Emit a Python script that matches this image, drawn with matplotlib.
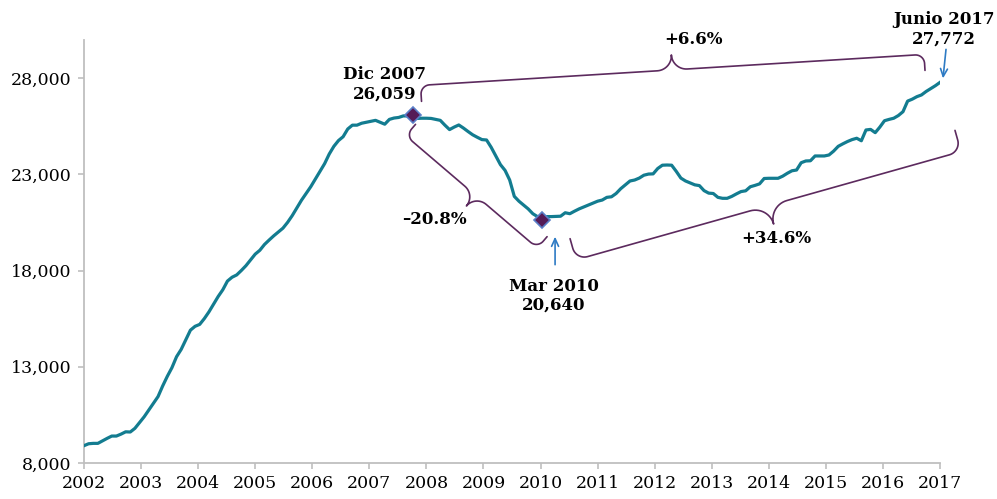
import numpy as np
import matplotlib.pyplot as plt
from matplotlib.ticker import FuncFormatter

# monthly values, one row per year (2002 .. mid 2017)
values = [
    8900, 9000, 9020, 9020, 9150, 9280, 9400, 9400, 9500, 9620, 9610, 9800,
    10100, 10400, 10750, 11100, 11450, 12000, 12500, 12950, 13520, 13900, 14400, 14900,
    15100, 15200, 15500, 15850, 16250, 16650, 17000, 17450, 17650, 17770, 18000, 18250,
    18550, 18850, 19050, 19350, 19580, 19800, 20000, 20200, 20500, 20850, 21250, 21650,
    22000, 22350, 22750, 23150, 23550, 24050, 24450, 24750, 24950, 25350, 25550, 25550,
    25650, 25700, 25750, 25800, 25700, 25600, 25850, 25920, 25950, 26030, 26030, 26059,
    25900, 25910, 25910, 25900, 25850, 25800, 25550, 25320, 25450, 25560, 25400, 25220,
    25050, 24920, 24800, 24780, 24400, 23950, 23500, 23200, 22700, 21850, 21600, 21400,
    21200, 20950, 20800, 20640, 20800, 20800, 20810, 20820, 21000, 20950, 21080, 21200,
    21300, 21400, 21500, 21600, 21660, 21800, 21830, 22000, 22250, 22450, 22650, 22700,
    22800, 22950, 23010, 23020, 23300, 23470, 23480, 23470, 23150, 22800, 22650, 22550,
    22450, 22410, 22150, 22020, 22000, 21800, 21750, 21750, 21850, 21980, 22100, 22140,
    22350, 22420, 22500, 22780, 22790, 22790, 22790, 22900, 23050, 23180, 23220, 23600,
    23690, 23700, 23950, 23950, 23950, 24000, 24200, 24450, 24580, 24700, 24800, 24870,
    24740, 25300, 25330, 25160, 25450, 25780, 25850, 25910, 26050, 26250, 26800, 26900,
    27030, 27120, 27300, 27450, 27600, 27772,
]
years = list(range(2002, 2018))
yticks = [8000, 13000, 18000, 23000, 28000]

peak_idx = 71
low_idx = 99
last_idx = len(values) - 1
peak_label = "Dic 2007\n26,059"
low_label = "Mar 2010\n20,640"
last_label = "Junio 2017\n27,772"
chg_peak_last = "+6.6%"
chg_peak_low = "\u201320.8%"
chg_low_last = "+34.6%"

teal = "#137C90"
purple = "#5C2A5E"
blue = "#2E7BC4"
grey = "#BFBFBF"

plt.rcParams['font.family'] = 'DejaVu Serif'

W, H = 997, 499
fig = plt.figure(figsize=(W / 100, H / 100), dpi=100)
ax = fig.add_axes([84 / W, 1 - 463 / H, 856 / W, 423.5 / H])

x = np.linspace(years[0], years[-1], len(values))
ax.plot(x, values, color=teal, lw=2.3, zorder=3)
ax.plot([x[peak_idx], x[low_idx]], [values[peak_idx], values[low_idx]],
        linestyle='none', marker='D', ms=8.5, mfc='#551B57', mec='#5A7FC8', mew=1.2, zorder=4)

ax.set_xlim(years[0], years[-1])
ax.set_ylim(8000, 30000)
ax.set_xticks(years)
ax.set_yticks(yticks)
ax.yaxis.set_major_formatter(FuncFormatter(lambda v, p: f"{int(v):,}"))
for s in ['top', 'right']:
    ax.spines[s].set_visible(False)
for s in ['left', 'bottom']:
    ax.spines[s].set_color(grey)
    ax.spines[s].set_linewidth(1.3)
ax.tick_params(axis='both', colors=grey, labelcolor='black', length=4, width=1.2, labelsize=12.5)
ax.tick_params(axis='x', pad=5)
ax.tick_params(axis='y', pad=5)


def px(i, dx=0, dy=0):
    # display position of point i, shifted dx right and dy down (pixels)
    X, Y = ax.transData.transform((x[i], values[i]))
    return np.array([X + dx, Y - dy])


def to_data(p):
    return ax.transData.inverted().transform(p)


def brace(p1, p2, h, ra, rt, side=1, frac=0.5):
    # curly brace from p1 to p2: arms of length h, cusp sticking out rt beyond
    d = p2 - p1
    L = np.hypot(*d)
    u = d / L
    n = np.array([-u[1], u[0]]) * side
    m = L * frac
    pts = [(0, 0)]
    t = np.linspace(np.pi, np.pi / 2, 15)
    pts += list(zip(ra + ra * np.cos(t), h - ra + ra * np.sin(t)))
    t = np.linspace(-np.pi / 2, 0, 15)
    pts += list(zip(m - rt + rt * np.cos(t), h + rt + rt * np.sin(t)))
    t = np.linspace(np.pi, 1.5 * np.pi, 15)
    pts += list(zip(m + rt + rt * np.cos(t), h + rt + rt * np.sin(t)))
    t = np.linspace(np.pi / 2, 0, 15)
    pts += list(zip(L - ra + ra * np.cos(t), h - ra + ra * np.sin(t)))
    pts += [(L, 0)]
    pts = np.array([p1 + a * u + b * n for a, b in pts])
    dat = to_data(pts)
    ax.plot(dat[:, 0], dat[:, 1], color=purple, lw=1.2, solid_capstyle='round',
            solid_joinstyle='round', zorder=2, clip_on=False)


brace(px(peak_idx, 9, -14), px(last_idx, -15, -12), 16, 9, 15, side=1)
brace(px(peak_idx, 3, 9), px(low_idx, 5, 17), 15, 9, 14, side=-1, frac=0.53)
brace(px(low_idx, 28, 19), px(last_idx, 15, 48), 22, 12, 19, side=-1)


def label(i, txt, dx, dy):
    ax.annotate(txt, xy=(x[i], values[i]), xytext=(dx, -dy), textcoords='offset pixels',
                ha='center', va='center', fontsize=12, fontweight='bold', linespacing=1.15,
                annotation_clip=False)


label(peak_idx, peak_label, -28, -31)
label(peak_idx, chg_peak_last, 281, -76)
label(last_idx, last_label, 4, -53)
label(peak_idx, chg_peak_low, 22, 104)
label(low_idx, chg_low_last, 234, 19)
label(low_idx, low_label, 12, 76)


def arrow(i, head, tail):
    ax.annotate('', xy=to_data(px(i, *head)), xytext=to_data(px(i, *tail)),
                arrowprops=dict(arrowstyle='->,head_length=0.55,head_width=0.25', color=blue,
                                lw=1.2, shrinkA=0, shrinkB=0), annotation_clip=False)


arrow(last_idx, (3, -4), (6, -33))
arrow(low_idx, (13, 17), (13, 45))

fig.savefig("out.png", dpi=100)
